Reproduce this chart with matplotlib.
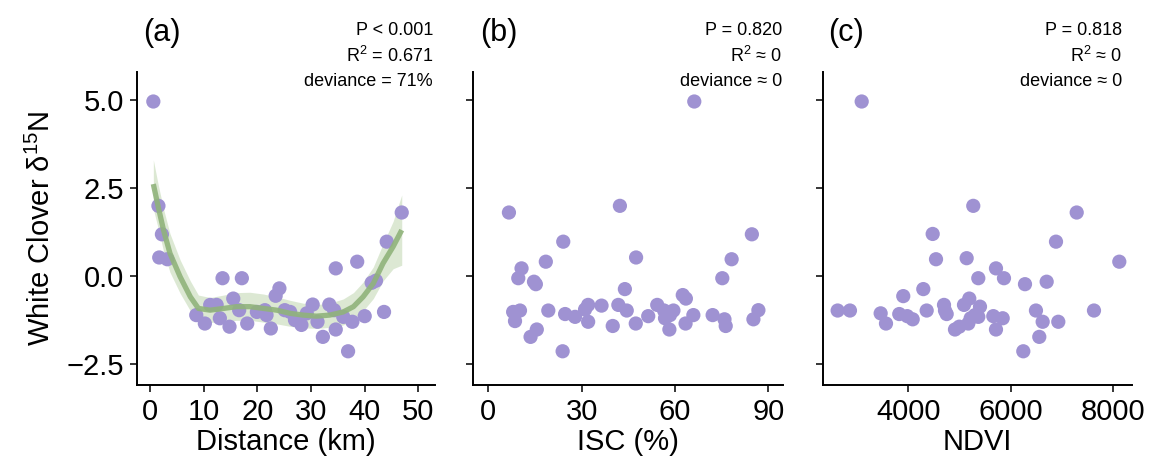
import numpy as np
import matplotlib
matplotlib.use("Agg")
import matplotlib.pyplot as plt

plt.rcParams["font.family"] = ["Liberation Sans", "DejaVu Sans"]
plt.rcParams["mathtext.fontset"] = "custom"
plt.rcParams["mathtext.rm"] = "Liberation Sans"
plt.rcParams["mathtext.it"] = "Liberation Sans:italic"

# -------------------- Data --------------------
dist_x = [0.6, 1.55, 2.2, 1.7, 3.2, 8.6, 10.2, 11.2, 12.4, 13.0, 13.5, 14.8, 15.5,
          16.6, 17.1, 18.1, 19.9, 21.4, 21.7, 22.5, 23.4, 24.1, 25.1, 26.1, 27.0,
          28.2, 29.2, 30.3, 31.2, 32.2, 33.4, 34.6, 34.6, 34.3, 36.0, 36.9, 37.7,
          38.6, 40.0, 41.3, 42.1, 43.6, 44.1, 46.9]
dist_y = [4.96, 1.99, 1.18, 0.52, 0.47, -1.12, -1.36, -0.83, -0.83, -1.21, -0.07,
          -1.45, -0.65, -0.98, -0.07, -1.36, -1.03, -0.98, -1.12, -1.5, -0.57, -0.36,
          -0.98, -1.03, -1.26, -1.4, -1.07, -0.82, -1.31, -1.74, -0.82, 0.21, -1.53,
          -0.98, -1.17, -2.15, -1.31, 0.4, -1.15, -0.2, -0.14, -1.03, 0.97, 1.8]

# GAM smooth and its confidence band (panel a)
fit_x = [0.6, 1.5, 2.5, 3.7, 5.6, 7.5, 9.0, 11.2, 13.7, 16.1, 18.6, 21.1, 23.6,
         26.1, 28.5, 31.0, 33.5, 36.0, 37.9, 39.7, 41.6, 43.4, 45.3, 46.9]
fit_y = [2.61, 1.97, 1.30, 0.64, -0.03, -0.6, -0.93, -0.98, -0.93, -0.88, -0.88,
         -0.93, -0.98, -1.07, -1.12, -1.15, -1.12, -1.03, -0.88, -0.6, -0.22, 0.35,
         0.83, 1.30]
fit_hi = [3.3, 2.6, 1.9, 1.2, 0.45, -0.15, -0.55, -0.62, -0.55, -0.48, -0.47, -0.52,
          -0.6, -0.7, -0.78, -0.82, -0.78, -0.66, -0.48, -0.18, 0.25, 0.9, 1.55, 2.3]
fit_lo = [1.9, 1.35, 0.7, 0.1, -0.5, -1.0, -1.3, -1.33, -1.3, -1.27, -1.27, -1.32,
          -1.37, -1.44, -1.48, -1.5, -1.47, -1.4, -1.25, -1.0, -0.65, -0.15, 0.2, 0.3]

isc_x = [6.65, 8.0, 8.6, 10.2, 9.65, 10.7, 13.6, 15.6, 14.7, 15.3, 18.5, 19.3, 23.9,
         24.1, 24.7, 27.9, 31.1, 32.1, 32.1, 36.4, 40.0, 42.3, 41.8, 44.5, 43.9, 47.5,
         47.4, 51.4, 54.3, 56.5, 56.8, 58.2, 59.5, 58.4, 62.5, 63.5, 63.4, 65.9, 66.2,
         72.1, 75.2, 75.9, 76.3, 78.2, 84.7, 85.2, 86.8]
isc_y = [1.8, -1.03, -1.29, -0.99, -0.07, 0.21, -1.74, -1.53, -0.17, -0.24, 0.4,
         -0.99, -2.15, 0.97, -1.09, -1.17, -0.96, -0.83, -1.31, -0.85, -1.43, 1.99,
         -0.83, -0.99, -0.38, 0.52, -1.36, -1.15, -0.83, -0.99, -1.21, -1.53, -0.99,
         -1.12, -0.55, -0.65, -1.36, -1.12, 4.96, -1.12, -0.07, -1.24, -1.43, 0.47,
         1.18, -1.24, -0.98]

ndvi_x = [2622, 2862, 3091, 3461, 3565, 3824, 3902, 3980, 4086, 4293, 4359, 4476,
          4541, 4697, 4716, 4749, 4911, 4995, 5087, 5139, 5190, 5171, 5217, 5268,
          5301, 5366, 5399, 5366, 5659, 5711, 5711, 5842, 5867, 6244, 6277, 6491,
          6556, 6622, 6700, 6882, 6927, 7286, 7623, 8117]
ndvi_y = [-0.99, -0.99, 4.96, -1.07, -1.36, -1.09, -0.58, -1.15, -1.24, -0.38, -0.99,
          1.19, 0.47, -0.83, -0.99, -1.09, -1.53, -1.45, -0.83, 0.5, -0.65, -1.36,
          -1.21, 1.99, -1.12, -0.07, -0.88, -1.17, -1.15, 0.21, -1.53, -1.21, -0.07,
          -2.15, -0.24, -0.99, -1.74, -1.31, -0.17, 0.97, -1.31, 1.8, -0.99, 0.4]

panel_labels = ["(a)", "(b)", "(c)"]
x_labels = ["Distance (km)", "ISC (%)", "NDVI"]
stats_text = [
    ["P < 0.001", "R$^2$ = 0.671", "deviance = 71%"],
    ["P = 0.820", "R$^2$ ≈ 0", "deviance ≈ 0"],
    ["P = 0.818", "R$^2$ ≈ 0", "deviance ≈ 0"],
]
x_ticks = [[0, 10, 20, 30, 40, 50], [0, 30, 60, 90], [4000, 6000, 8000]]
x_lims = [(-2.5, 53.1), (-4.8, 94.8), (2342, 8359)]
y_ticks = [-2.5, 0.0, 2.5, 5.0]

point_col = "#9f92d2"
line_col = "#90b37b"
band_col = "#d6e5cc"

# -------------------- Layout --------------------
fig = plt.figure(figsize=(11.54, 4.69), dpi=100)
W, H = 1154, 469
boxes = [(136.7, 435), (473.3, 783.3), (823.3, 1131.7)]
top, bottom = 72, 385
axes = [fig.add_axes([l / W, 1 - bottom / H, (r - l) / W, (bottom - top) / H])
        for l, r in boxes]

data = [(dist_x, dist_y), (isc_x, isc_y), (ndvi_x, ndvi_y)]

for i, ax in enumerate(axes):
    if i == 0:
        ax.fill_between(fit_x, fit_lo, fit_hi, color=band_col, alpha=0.85,
                        linewidth=0, zorder=1)
    x, y = data[i]
    ax.scatter(x, y, s=105, color=point_col, edgecolors="none", zorder=2)
    if i == 0:
        ax.plot(fit_x, fit_y, color=line_col, lw=3.8, alpha=0.9,
                solid_capstyle="butt", zorder=3)

    ax.set_xlim(*x_lims[i])
    ax.set_ylim(-3.11, 5.8)
    ax.set_xticks(x_ticks[i])
    ax.set_yticks(y_ticks)
    for s in ["top", "right"]:
        ax.spines[s].set_visible(False)
    for s in ["left", "bottom"]:
        ax.spines[s].set_linewidth(1.4)
    ax.tick_params(length=5, width=1.1, labelsize=21, pad=4)
    ax.set_xlabel(x_labels[i], fontsize=21, labelpad=2)
    if i == 0:
        ax.set_yticklabels(["\u22122.5", "0.0", "2.5", "5.0"])
    else:
        ax.set_yticklabels([])

axes[0].set_ylabel("White Clover δ$^{15}$N", fontsize=21, labelpad=8)

label_x = [143, 480, 828]
stat_right = [433, 782, 1122]
for i in range(3):
    fig.text(label_x[i] / W, 1 - 33 / H, panel_labels[i], fontsize=22,
             ha="left", va="center")
    for j, t in enumerate(stats_text[i]):
        fig.text(stat_right[i] / W, 1 - (30 + 26 * j) / H, t, fontsize=13,
                 ha="right", va="center")

fig.savefig("out.png", dpi=100)
